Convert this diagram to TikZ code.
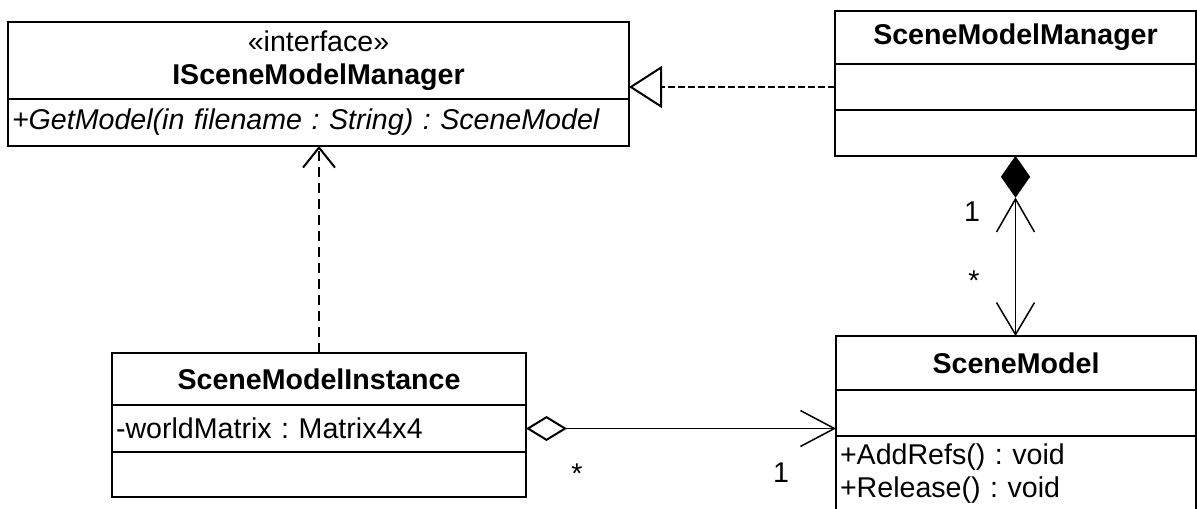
\documentclass[tikz,border=0pt]{standalone}
\usepackage{fontspec}
\setmainfont{Liberation Sans}
\usepackage{tikz}
\usetikzlibrary{arrows.meta,positioning,shapes.geometric}
\frenchspacing

\tikzset{
  compart/.style={draw=black,fill=white,line width=1pt,inner sep=2pt,outer sep=0pt,
                  font=\fontsize{14.3}{16.5}\selectfont},
  namepart/.style={compart,align=center},
  listpart/.style={compart,align=left},
  dependarr/.style={-{Straight Barb[length=10pt,width=16pt]},line width=1pt,
                    dash pattern=on 5pt off 3pt},
  realarr/.style={-{Triangle[open,length=16.5pt,width=21pt]},line width=1pt,
                  dash pattern=on 3.5pt off 1.5pt},
  assocarr/.style={line width=0.75pt},
  compdiamond/.style={diamond,draw=black,fill=black,line width=0.75pt,inner sep=0pt,
                      minimum width=14pt,minimum height=20pt},
  mult/.style={font=\fontsize{14.3}{16.5}\selectfont,inner sep=0pt}
}

\begin{document}
\begin{tikzpicture}[x=0.5pt,y=-0.5pt]
  \path[use as bounding box] (0,0) rectangle (1197,508);

  % interface
  \node[namepart,anchor=north west,minimum width=310.5pt,minimum height=38.5pt]
    (ifacetitle) at (8,22) {«interface»\\\textbf{ISceneModelManager}};
  \node[listpart,below=0pt of ifacetitle,minimum width=310.5pt,minimum height=23.5pt,
        text width=306.5pt] (ifaceop) {\textit{+GetModel(in filename : String) : SceneModel}};

  % manager
  \node[namepart,anchor=north west,minimum width=180.5pt,minimum height=26.5pt]
    (smmtitle) at (835,11) {\textbf{SceneModelManager}};
  \node[listpart,below=0pt of smmtitle,minimum width=180.5pt,minimum height=23pt] (smmattr) {};
  \node[listpart,below=0pt of smmattr,minimum width=180.5pt,minimum height=23pt] (smmop) {};

  % model
  \node[namepart,anchor=north west,minimum width=180pt,minimum height=27pt]
    (smtitle) at (836,336) {\textbf{SceneModel}};
  \node[listpart,below=0pt of smtitle,minimum width=180pt,minimum height=23pt] (smattr) {};
  \node[listpart,below=0pt of smattr,minimum width=180pt,minimum height=38pt,
        text width=176pt] (smop) {+AddRefs() : void\\+Release() : void};

  % instance
  \node[namepart,anchor=north west,minimum width=207pt,minimum height=26pt]
    (smititle) at (112,353) {\textbf{SceneModelInstance}};
  \node[listpart,below=0pt of smititle,minimum width=207pt,minimum height=23.5pt,
        text width=203pt] (smiattr) {-worldMatrix : Matrix4x4};
  \node[listpart,below=0pt of smiattr,minimum width=207pt,minimum height=22.5pt] (smiop) {};

  % connectors
  \draw[realarr] (smmattr.west) -- (smmattr.west -| ifacetitle.east);
  \draw[dependarr] (smititle.north) -- (smititle.north |- ifaceop.south);

  \node[compdiamond,anchor=north] (comp) at (smmop.south) {};
  \draw[assocarr,{Straight Barb[length=16.5pt,width=19pt]}-{Straight Barb[length=16pt,width=19pt]}]
    (comp.south) -- (comp.south |- smtitle.north);
  \node[mult] (compone) at (972,212) {1};
  \node[mult] (compmany) at (974,281) {*};

  \draw[assocarr,{Diamond[open,length=20.5pt,width=12.5pt,line width=1pt]}-{Straight Barb[length=17pt,width=18pt]}]
    (smiattr.east) -- (smiattr.east -| smattr.west);
  \node[mult] (aggmany) at (577,474) {*};
  \node[mult] (aggone) at (781,473) {1};
\end{tikzpicture}
\end{document}
